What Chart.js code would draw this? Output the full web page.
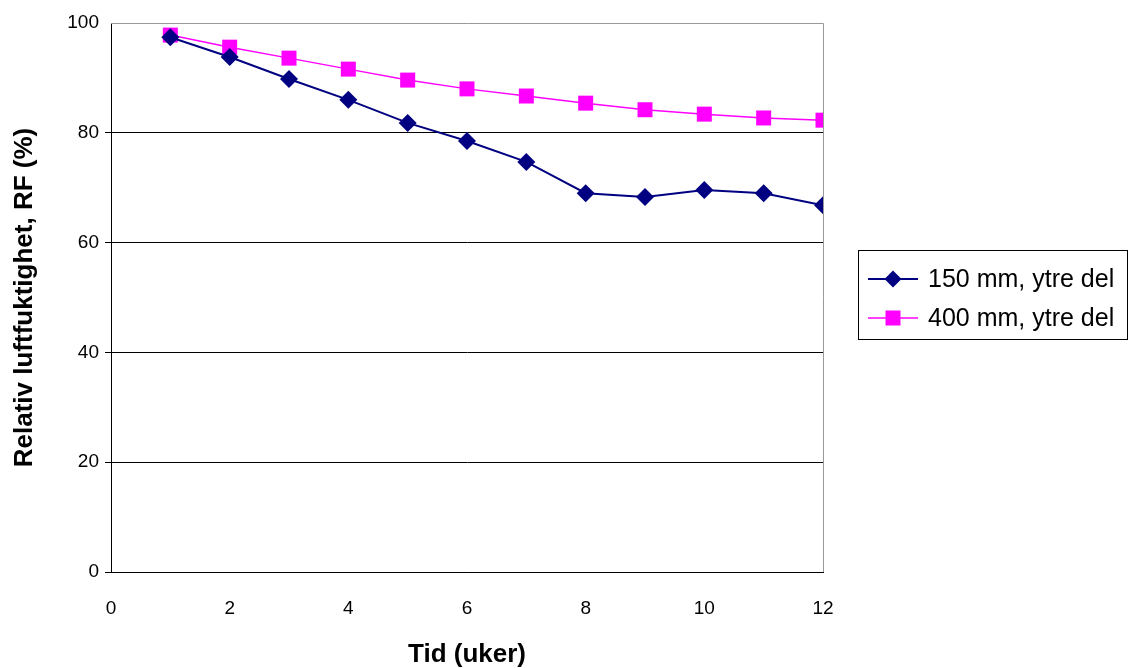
<!DOCTYPE html>
<html><head><meta charset="utf-8">
<script src="https://cdn.jsdelivr.net/npm/chart.js@4/dist/chart.umd.min.js"></script>
<style>html,body{margin:0;padding:0;background:#fff}#w{width:1133px;height:668px}</style>
</head><body><div id="w"><canvas id="c" width="1133" height="668"></canvas></div>
<script>
const weeks = [1,2,3,4,5,6,7,8,9,10,11,12];
const rf150 = [97.4,93.8,89.8,86.0,81.8,78.5,74.7,69.0,68.3,69.6,69.0,66.8];
const rf400 = [97.8,95.6,93.6,91.6,89.6,88.0,86.7,85.4,84.2,83.4,82.7,82.3];
const seriesNames = ['150 mm, ytre del','400 mm, ytre del'];
const xTitle = 'Tid (uker)';
const yTitle = 'Relativ luftfuktighet, RF (%)';

const FONT = 'Liberation Sans, Arial, sans-serif';

const legendPlugin = {
  id: 'boxLegend',
  afterDraw(chart) {
    const ctx = chart.ctx;
    const x0 = 858.5, y0 = 250.5, w = 269, h = 89;
    ctx.save();
    ctx.strokeStyle = '#000'; ctx.lineWidth = 1;
    ctx.strokeRect(x0, y0, w, h);
    chart.data.datasets.forEach((ds, i) => {
      const cy = 279 + i * 39;
      ctx.strokeStyle = ds.borderColor; ctx.lineWidth = ds.borderWidth;
      ctx.beginPath(); ctx.moveTo(868, cy); ctx.lineTo(918, cy); ctx.stroke();
      ctx.fillStyle = ds.pointBackgroundColor;
      ctx.beginPath();
      if (ds.pointStyle === 'rectRot') {
        const r = 8.5;
        ctx.moveTo(893, cy - r); ctx.lineTo(893 + r, cy); ctx.lineTo(893, cy + r); ctx.lineTo(893 - r, cy); ctx.closePath();
      } else {
        ctx.rect(885.5, cy - 7.5, 15, 15);
      }
      ctx.fill();
      ctx.fillStyle = '#000'; ctx.font = '25px ' + FONT; ctx.textBaseline = 'middle'; ctx.textAlign = 'left';
      ctx.fillText(ds.label, 928, cy + 1);
    });
    ctx.restore();
  }
};

const borderPlugin = {
  id: 'plotBorder',
  afterDraw(chart) {
    const {left, right, top, bottom} = chart.chartArea;
    const ctx = chart.ctx;
    ctx.save();
    ctx.strokeStyle = '#999'; ctx.lineWidth = 1;
    ctx.beginPath();
    ctx.moveTo(left, top + 0.5); ctx.lineTo(right + 0.5, top + 0.5); ctx.lineTo(right + 0.5, bottom);
    ctx.stroke();
    ctx.restore();
  }
};

new Chart(document.getElementById('c'), {
  type: 'line',
  data: {
    datasets: [
      { label: seriesNames[0], data: weeks.map((x,i)=>({x, y: rf150[i]})),
        borderColor: '#000080', backgroundColor: '#000080', pointBackgroundColor: '#000080',
        pointBorderColor: '#000080', borderWidth: 2, pointStyle: 'rectRot', pointRadius: 9, pointBorderWidth: 0, tension: 0 },
      { label: seriesNames[1], data: weeks.map((x,i)=>({x, y: rf400[i]})),
        borderColor: '#FF00FF', backgroundColor: '#FF00FF', pointBackgroundColor: '#FF00FF',
        pointBorderColor: '#FF00FF', borderWidth: 1.5, pointStyle: 'rect', pointRadius: 10.6, pointBorderWidth: 0, tension: 0 }
    ]
  },
  options: {
    responsive: false, animation: false, devicePixelRatio: 1,
    layout: { padding: { top: 23, right: 310, bottom: 0, left: 0 } },
    plugins: { legend: { display: false }, tooltip: { enabled: false } },
    scales: {
      x: { type: 'linear', min: 0, max: 12,
        ticks: { stepSize: 2, color: '#000', font: { family: FONT, size: 19 }, padding: 19 },
        grid: { display: false, drawTicks: true, tickLength: 6, color: '#000' },
        border: { color: '#000', width: 1 },
        title: { display: true, text: xTitle, color: '#000', font: { family: FONT, size: 26, weight: 'bold', lineHeight: 1 }, padding: { top: 10, bottom: 0 } },
        afterFit(s) { s.height = 96; }
      },
      y: { min: 0, max: 100,
        ticks: { stepSize: 20, color: '#000', font: { family: FONT, size: 19 }, padding: 6 },
        grid: { color: '#000', lineWidth: (c) => (c.tick && c.tick.value === 100) ? 0 : 1, drawTicks: true, tickLength: 6 },
        border: { color: '#000', width: 1 },
        title: { display: true, text: yTitle, color: '#000', font: { family: FONT, size: 26, weight: 'bold', lineHeight: 1 }, padding: { top: 12, bottom: 10 } },
        afterFit(s) { s.width = 111; }
      }
    }
  },
  plugins: [legendPlugin, borderPlugin]
});
</script>
</body></html>
